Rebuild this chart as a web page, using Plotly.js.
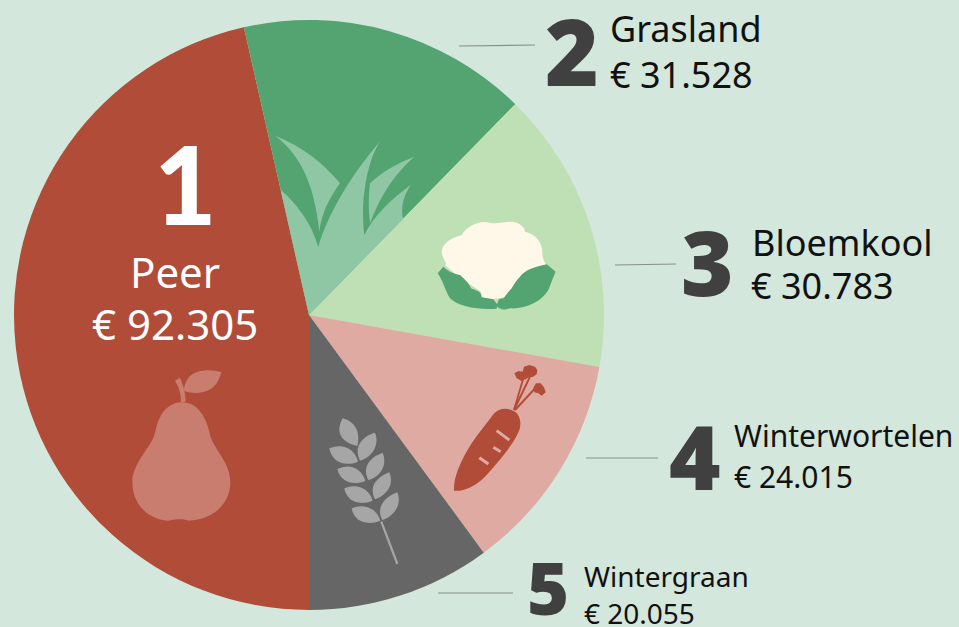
<!DOCTYPE html>
<html><head><meta charset="utf-8">
<script src="https://cdn.plot.ly/plotly-3.0.1.min.js"></script>
<style>html,body{margin:0;padding:0;background:#D3E7DC}</style></head>
<body><div id="chart" style="width:959px;height:627px"></div>
<script>
const categories = ["Peer","Grasland","Bloemkool","Winterwortelen","Wintergraan"];
const values = [92305,31528,30783,24015,20055];
const ranks = ["1","2","3","4","5"];
const colors = ["#B04C38","#54A472","#BEE0B4","#DEAAA2","#666666"];

const W=959,H=627;
const euro = v => "€ " + String(v).replace(/\B(?=(\d{3})+$)/g,".");
const px = x => x/W, py = y => 1-y/H;
function icon(d,ox,oy,s){
  s = s||1/3;
  return d.replace(/(-?[\d.]+)[ ,](-?[\d.]+)/g,(m,a,b)=>px(ox+a*s)+","+py(oy+b*s));
}
function fill(d,color){return {type:"path",xref:"paper",yref:"paper",path:d,fillcolor:color,line:{width:0},layer:"above"};}
function seg(x0,y0,x1,y1,color,w){return {type:"line",xref:"paper",yref:"paper",x0:px(x0),y0:py(y0),x1:px(x1),y1:py(y1),line:{color:color,width:w},layer:"above"};}
function lseg(ox,oy,a,b,c,d,color,w){return seg(ox+a/3,oy+b/3,ox+c/3,oy+d/3,color,w);}

const grass="#8FC7A5",cream="#FFF7E8",green="#54A472",carrot="#B04C38",pink="#DEAAA2",wheat="#A6A6A6",pear="#C97D6F";
const shapes=[
 seg(459,46,535,45,"#8a8f8c",1.2), seg(615,265,676,264,"#8a8f8c",1.2),
 seg(586,458,658,458,"#8a8f8c",1.2), seg(438,593,513,593,"#8a8f8c",1.2),
 fill(icon("M147,585 L62,210 C110,250 155,310 175,382 C190,320 250,190 362,62 C320,120 300,250 313,345 C340,290 390,240 452,195 C430,230 422,260 429,297 Z",260,120),grass),
 fill(icon("M45,47 C130,80 190,130 240,190 C205,240 185,280 178,335 C165,210 130,110 45,47 Z",260,120),grass),
 fill(icon("M463,110 C410,130 360,160 330,190 C325,230 325,270 330,310 C360,230 400,165 463,110 Z",260,120),grass),
 fill(icon("M50,125 C55,95 80,85 110,75 C125,50 160,30 195,38 C220,45 245,30 275,38 C295,45 300,60 300,65 C330,70 355,100 352,130 C352,150 365,165 372,185 L340,240 L250,255 C235,268 190,270 170,262 L168,245 L100,200 L60,165 C70,160 52,150 50,125 Z",425,210),cream),
 fill(icon("M38,190 L55,170 C70,185 85,190 105,195 C115,205 130,215 138,235 C150,242 168,240 170,262 L205,268 L218,285 L215,296 C160,300 100,290 75,265 C60,240 55,215 38,190 Z",425,210),green),
 fill(icon("M392,185 L365,163 C330,170 300,180 285,200 C275,210 265,225 260,235 C245,250 240,262 235,265 L222,268 L215,285 C218,298 240,302 255,295 C300,298 350,275 370,240 C378,220 385,200 392,185 Z",425,210),green),
 fill(icon("M42,407 C40,370 60,320 95,265 C115,235 140,205 160,178 C175,160 200,155 225,170 C240,180 245,205 238,225 C225,260 185,310 135,365 C105,395 70,410 42,407 Z",440,355),carrot),
 lseg(440,355,170,227,208,255,pink,3), lseg(440,355,160,277,182,290,pink,3), lseg(440,355,118,308,145,327,pink,3),
 lseg(440,355,222,165,270,65,carrot,2), lseg(440,355,222,165,250,70,carrot,1.8), lseg(440,355,225,165,290,95,carrot,2),
 fill(icon("M223,55 L236,48 L248,50 L252,35 L268,30 L285,35 L292,45 L290,58 L278,66 L268,66 L258,72 L245,78 L230,70 Z",440,355),carrot),
 fill(icon("M280,98 L288,85 L302,85 L312,97 L317,112 L305,122 L295,115 L283,112 Z",440,355),carrot),
 ...[
  "M68,25 C105,35 122,65 112,108 C70,100 42,70 68,25 Z",
  "M28,115 C65,98 105,115 114,155 C72,172 35,155 28,115 Z",
  "M165,68 C180,105 155,142 120,152 C100,110 125,80 165,68 Z",
  "M52,177 C90,158 125,175 136,213 C98,228 60,215 52,177 Z",
  "M188,128 C205,170 175,202 145,210 C125,170 150,142 188,128 Z",
  "M73,235 C110,218 148,235 158,272 C118,288 80,275 73,235 Z",
  "M208,187 C225,228 195,258 165,268 C145,230 170,202 208,187 Z",
  "M95,295 C132,278 170,295 181,332 C140,348 102,335 95,295 Z",
  "M232,247 C248,288 218,320 187,330 C168,295 190,262 232,247 Z"
 ].map(d=>fill(icon(d,320,410),wheat)),
 lseg(320,410,184,335,232,462,wheat,2.2),
 fill(icon("M183,127 C225,125 255,160 268,215 C275,265 330,300 331,365 C332,430 280,480 205,482 C185,475 165,478 145,482 C80,478 37,430 37,365 C37,310 95,260 105,220 C115,165 140,130 183,127 Z",120,360),pear),
 fill(icon("M165,62 L180,53 C190,75 197,100 197,125 L183,127 C183,100 178,85 165,62 Z",120,360),pear),
 fill(icon("M305,37 C270,25 230,30 210,48 C195,65 192,82 192,92 C225,105 270,100 290,70 C298,58 300,45 305,37 Z",120,360),pear)
];

const FONT="'Noto Sans', Lato, sans-serif";
function txt(x,y,t,size,color,anchor,weight,family){
  return {xref:"paper",yref:"paper",x:px(x),y:py(y),text:t,showarrow:false,xanchor:anchor||"left",yanchor:"middle",
    font:{family:family||FONT,size:size,color:color,weight:weight||400},borderpad:0,bgcolor:"rgba(0,0,0,0)"};
}
const dark="#404040", black="#111111";
const annotations=[
 txt(185,183,ranks[0],108,"#FFFFFF","center",900,"Lato, sans-serif"),
 txt(175,271,categories[0],42,"#FFFFFF","center"),
 txt(175,323,euro(values[0]),42,"#FFFFFF","center"),
 txt(572,50,ranks[1],92,dark,"center",900),
 txt(609,28,categories[1],36,black), txt(609,74,euro(values[1]),36,black),
 txt(707,261,ranks[2],90,dark,"center",900),
 txt(751,242,categories[2],36,black), txt(750,285,euro(values[2]),36,black),
 txt(695,456,ranks[3],88,dark,"center",900),
 txt(733,435,categories[3],30,black), txt(733,476,euro(values[3]),30,black),
 txt(548,587,ranks[4],72,dark,"center",900),
 txt(583,576,categories[4],28,black), txt(583,613,euro(values[4]),28,black)
];

Plotly.newPlot("chart",[{
  type:"pie",labels:categories,values:values,sort:false,direction:"clockwise",rotation:180,
  marker:{colors:colors,line:{width:0}},textinfo:"none",hoverinfo:"label+value",showlegend:false,
  domain:{x:[14/W,604/W],y:[1-610/H,1-20/H]}
}],{
  width:W,height:H,margin:{l:0,r:0,t:0,b:0},paper_bgcolor:"#D3E7DC",plot_bgcolor:"#D3E7DC",
  showlegend:false,shapes:shapes,annotations:annotations
},{displayModeBar:false,staticPlot:true});
</script></body></html>
